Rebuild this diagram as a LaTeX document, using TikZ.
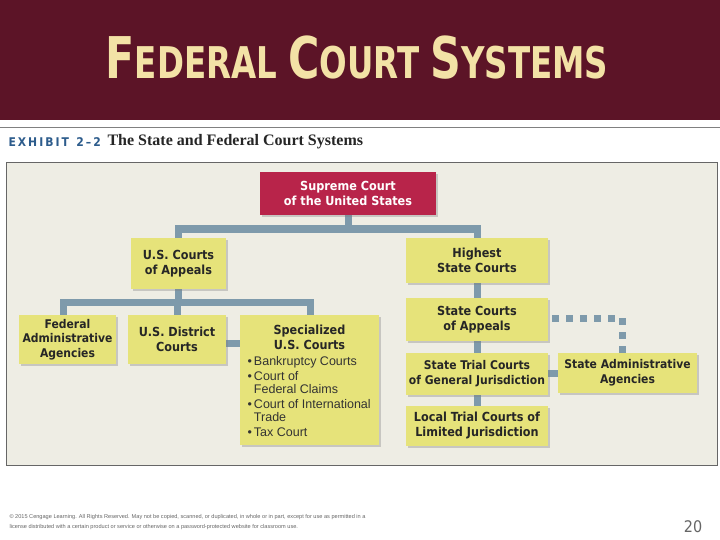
\documentclass[tikz,border=0pt]{standalone}
\usepackage{fontspec}
\setmainfont{Liberation Sans}
\newfontfamily\cond{DejaVu Sans Condensed}
\newfontfamily\serifb{Liberation Serif}
\usetikzlibrary{shadows}
\definecolor{maroon}{HTML}{5C1427}
\definecolor{titley}{HTML}{F3E2A6}
\definecolor{crimson}{HTML}{B8244A}
\definecolor{boxy}{HTML}{E6E37A}
\definecolor{conn}{HTML}{7E9AAB}
\definecolor{panel}{HTML}{EEEDE4}
\definecolor{exblue}{HTML}{2D5C8C}
\tikzset{
  court/.style={fill=boxy, drop shadow={shadow xshift=2pt,shadow yshift=-2pt,opacity=0.35}, inner sep=0pt, align=center, font=\cond\bfseries\fontsize{12.5}{15}\selectfont, text=black!85},
  link/.style={draw=conn, line width=7pt},
}
\begin{document}
\begin{tikzpicture}[x=1pt,y=-1pt]
\useasboundingbox (0,0) rectangle (720,540);
\fill[white] (0,0) rectangle (720,540);
\fill[maroon] (0,0) rectangle (720,120);
\node[text=titley, font=\cond\bfseries, xscale=0.95, yscale=1.15] (title) at (357,58) {{\fontsize{50}{50}\selectfont F}{\fontsize{38}{38}\selectfont EDERAL }{\fontsize{50}{50}\selectfont C}{\fontsize{38}{38}\selectfont OURT }{\fontsize{50}{50}\selectfont S}{\fontsize{38}{38}\selectfont YSTEMS}};
\draw[gray, line width=1pt] (0,128) -- (720,128);
\node[anchor=west, text=exblue, font=\cond\bfseries\fontsize{12}{12}\selectfont] (ex) at (5,142) {E\,X\,H\,I\,B\,I\,T\ \ 2\,–\,2};
\node[anchor=west, font=\serifb\bfseries\fontsize{16}{16}\selectfont, text=black!85] (exh) at (104,142) {The State and Federal Court Systems};
\draw[fill=panel, draw=gray!80!black, line width=0.8pt] (6,162) rectangle (717,465);

% connectors
\draw[link] (348,215) -- (348,229);
\draw[link] (178,238) -- (178,229) -- (477,229) -- (477,238);
\draw[link] (178,289) -- (178,302);
\draw[link] (63,315) -- (63,302) -- (310,302) -- (310,315);
\draw[link] (177,302) -- (177,315);
\draw[link] (226,343) -- (240,343);
\draw[link] (477,283) -- (477,298);
\draw[link] (477,341) -- (477,353);
\draw[link] (477,395) -- (477,406);
\draw[link] (548,373) -- (558,373);
\draw[draw=conn, line width=7pt, dash pattern=on 7pt off 7pt] (552,318) -- (622,318) -- (622,353);

\node[fill=crimson, inner sep=0pt, minimum width=176pt, minimum height=43pt, align=center, text=white, font=\cond\bfseries\fontsize{12.5}{15}\selectfont, drop shadow={shadow xshift=2pt,shadow yshift=-2pt,opacity=0.35}] (sc) at (348,193.5) {Supreme Court\\of the United States};
\node[court, minimum width=95pt, minimum height=51pt] (ca) at (178.5,263.5) {U.S. Courts\\of Appeals};
\node[court, minimum width=142pt, minimum height=45pt] (hs) at (477,260.5) {Highest\\State Courts};
\node[court, minimum width=97pt, minimum height=49pt, font=\cond\bfseries\fontsize{12}{14.5}\selectfont] (fa) at (67.5,339.5) {Federal\\Administrative\\Agencies};
\node[court, minimum width=98pt, minimum height=49pt] (dc) at (177,339.5) {U.S. District\\Courts};
\node[court, minimum width=139pt, minimum height=130pt] (sp) at (309.5,380) {};
\node[font=\cond\bfseries\fontsize{12.5}{15}\selectfont, align=center, text=black!85] (spt) at (309.5,337) {Specialized\\U.S. Courts};
\node[anchor=north west, font=\fontsize{12.5}{13.5}\selectfont, text=black!80, align=left] (spl) at (244,353) {%
\begin{tabular}{@{}l@{\,}l@{}}
\textbullet & Bankruptcy Courts\\[1pt]
\textbullet & Court of\\ & Federal Claims\\[1pt]
\textbullet & Court of International\\ & Trade\\[1pt]
\textbullet & Tax Court
\end{tabular}};
\node[court, minimum width=142pt, minimum height=43pt] (sa) at (477,319.5) {State Courts\\of Appeals};
\node[court, minimum width=142pt, minimum height=42pt, font=\cond\bfseries\fontsize{12}{15}\selectfont] (st) at (477,374) {State Trial Courts\\of General Jurisdiction};
\node[court, minimum width=142pt, minimum height=40pt] (lt) at (477,426) {Local Trial Courts of\\Limited Jurisdiction};
\node[court, minimum width=139pt, minimum height=40pt, font=\cond\bfseries\fontsize{12}{15}\selectfont] (ad) at (627.5,373) {State Administrative\\Agencies};

\node[anchor=west, align=left, text=gray!80!black, font=\fontsize{5.6}{10}\selectfont] (foot) at (6,522) {© 2015 Cengage Learning. All Rights Reserved. May not be copied, scanned, or duplicated, in whole or in part, except for use as permitted in a\\license distributed with a certain product or service or otherwise on a password-protected website for classroom use.};
\node[text=gray!80!black, font=\cond\fontsize{16}{16}\selectfont] (pg) at (693,527) {20};
\end{tikzpicture}
\end{document}
